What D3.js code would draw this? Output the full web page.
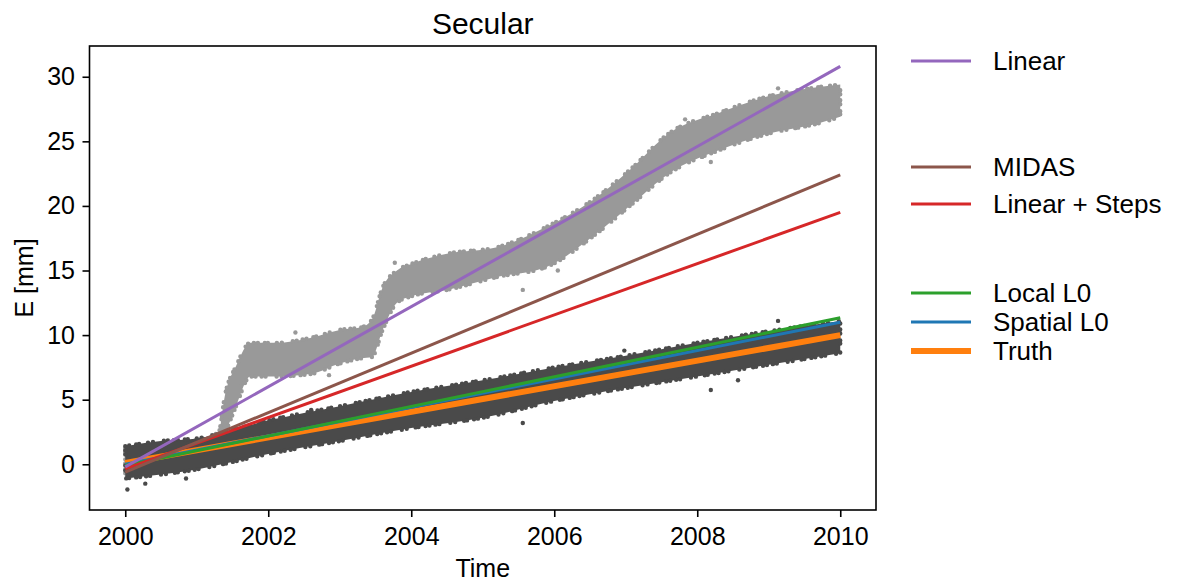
<!DOCTYPE html>
<html>
<head>
<meta charset="utf-8">
<script src="https://cdn.jsdelivr.net/npm/d3@7"></script>
<style>
  body { margin: 0; background: #fff; }
  svg text { font-family: "Liberation Sans", Arial, sans-serif; fill: #000; }
</style>
</head>
<body>
<div id="chart"></div>
<script>
// valeurs
const xTicks = [2000, 2002, 2004, 2006, 2008, 2010];
const yTicks = [0, 5, 10, 15, 20, 25, 30];

// nuage gris clair (avec sauts) : enveloppe basse / haute en mm
const lightT  = [2000, 2001.3, 2001.4, 2001.55, 2001.75, 2002.1, 2002.6, 2003.0, 2003.3, 2003.45, 2003.6, 2003.8, 2004.0, 2004.5, 2005.2, 2005.9, 2006.6, 2007.1, 2007.6, 2008.3, 2009.0, 2009.7, 2010];
const lightLo = [-0.8, 0.9, 2.4, 4.5, 6.8, 6.8, 7.0, 7.8, 8.2, 8.3, 10.4, 12.5, 13.0, 13.5, 14.5, 15.3, 17.9, 20.2, 22.5, 24.3, 25.6, 26.4, 26.9];
const lightHi = [1.2, 2.4, 5.5, 7.6, 9.4, 9.4, 9.8, 10.4, 10.6, 11.2, 13.7, 15.0, 15.5, 16.3, 16.8, 18.4, 20.7, 23.0, 25.6, 27.2, 28.5, 29.2, 29.4];

// nuage gris foncé (sans sauts)
const darkT  = [2000, 2000.5, 2001, 2002, 2003, 2004, 2005, 2006, 2007, 2008, 2009, 2010];
const darkLo = [-1.1, -0.8, -0.4, 0.8, 1.8, 2.8, 3.6, 4.9, 5.9, 6.8, 7.7, 8.6];
const darkHi = [1.4, 1.8, 2.0, 3.4, 4.5, 5.6, 6.5, 7.5, 8.4, 9.4, 10.3, 11.1];

// quelques points isolés
const lightOutT = [2001.62, 2002.38, 2002.85, 2003.77, 2005.56, 2006.05, 2007.83, 2008.07, 2008.19, 2009.13];
const lightOutV = [6.3, 10.2, 6.9, 15.6, 13.5, 15.0, 26.7, 23.8, 23.4, 29.1];
const darkOutT = [2000.03, 2000.28, 2000.85, 2002.6, 2005.56, 2006.98, 2008.19, 2008.57, 2009.13];
const darkOutV = [-1.95, -1.5, -1.1, 4.2, 3.2, 8.8, 5.75, 6.5, 11.1];

// droites : valeur en 2000 et en 2010
const lineNames = ["Truth", "Spatial L0", "Local L0", "Linear + Steps", "MIDAS", "Linear"];
const lineStart = [0.1, 0.0, -0.1, -0.35, -0.6, -0.2];
const lineEnd   = [10.0, 11.0, 11.35, 19.5, 22.4, 30.8];
const lineColors = ["#ff7f0e", "#1f77b4", "#2ca02c", "#d62728", "#8c564b", "#9467bd"];
const lineWidths = [6, 3, 3, 3, 3, 3];

const margin = { top: 46, right: 303, bottom: 73, left: 89.5 },
  width = 1179 - margin.left - margin.right,
  height = 583 - margin.top - margin.bottom;

const svg = d3
  .select("#chart")
  .append("svg")
  .attr("width", 1179)
  .attr("height", 583);

const g = svg.append("g").attr("transform", "translate(" + margin.left + "," + margin.top + ")");

const x = d3.scaleLinear().domain([1999.5, 2010.5]).range([0, width]);
const y = d3.scaleLinear().domain([-3.54, 32.38]).range([height, 0]);

g.append("clipPath").attr("id", "clip")
  .append("rect").attr("width", width).attr("height", height);

const plot = g.append("g").attr("clip-path", "url(#clip)");

function band(ts, lo, hi) {
  return ts.map((t, i) => ({ t: t, lo: lo[i], hi: hi[i] }));
}

const area = d3.area()
  .x((d) => x(d.t))
  .y0((d) => y(d.lo))
  .y1((d) => y(d.hi))
  .curve(d3.curveMonotoneX);

function drawCloud(data, outT, outV, color) {
  // enveloppe du nuage, bord en pointillé irrégulier pour imiter les points
  plot.append("path")
    .datum(data)
    .attr("d", area)
    .style("fill", color)
    .style("stroke", color)
    .style("stroke-width", 4.4)
    .style("stroke-linecap", "round")
    .style("stroke-dasharray", "0 4 0 7 0 3 0 9 0 5 0 11 0 4 0 6");
  plot.selectAll(null)
    .data(outT.map((t, i) => ({ t: t, v: outV[i] })))
    .enter()
    .append("circle")
    .attr("cx", (d) => x(d.t))
    .attr("cy", (d) => y(d.v))
    .attr("r", 2.2)
    .style("fill", color);
}

drawCloud(band(lightT, lightLo, lightHi), lightOutT, lightOutV, "#999999");
drawCloud(band(darkT, darkLo, darkHi), darkOutT, darkOutV, "#4a4a4a");

// droites
lineNames.forEach(function (name, i) {
  plot.append("line")
    .attr("x1", x(2000))
    .attr("y1", y(lineStart[i]))
    .attr("x2", x(2010))
    .attr("y2", y(lineEnd[i]))
    .style("stroke", lineColors[i])
    .style("stroke-width", lineWidths[i]);
});

// axes
const xAxis = g.append("g")
  .attr("transform", "translate(0," + height + ")")
  .call(d3.axisBottom(x).tickValues(xTicks).tickFormat(d3.format("d")).tickSize(7).tickPadding(10));
const yAxis = g.append("g")
  .call(d3.axisLeft(y).tickValues(yTicks).tickSize(7).tickPadding(7.5));

[xAxis, yAxis].forEach(function (a) {
  a.select(".domain").remove();
  a.selectAll(".tick line").style("stroke", "#000").style("stroke-width", 1.6);
  a.selectAll(".tick text").style("font-size", "25px").style("font-family", "Liberation Sans, Arial, sans-serif");
});

g.append("rect")
  .attr("width", width)
  .attr("height", height)
  .style("fill", "none")
  .style("stroke", "#000")
  .style("stroke-width", 1.6);

// titres
svg.append("text")
  .attr("x", margin.left + width / 2)
  .attr("y", 34)
  .attr("text-anchor", "middle")
  .style("font-size", "30px")
  .text("Secular");

svg.append("text")
  .attr("x", margin.left + width / 2)
  .attr("y", 577)
  .attr("text-anchor", "middle")
  .style("font-size", "25px")
  .text("Time");

svg.append("text")
  .attr("transform", "translate(33," + (margin.top + height / 2) + ") rotate(-90)")
  .attr("text-anchor", "middle")
  .style("font-size", "25px")
  .text("E [mm]");

// légende
const legendNames = ["Linear", "MIDAS", "Linear + Steps", "Local L0", "Spatial L0", "Truth"];
const legendY = [61, 167, 204, 293, 322, 351];

const legend = svg.append("g");
legendNames.forEach(function (name, i) {
  const k = lineNames.indexOf(name);
  legend.append("line")
    .attr("x1", 911)
    .attr("x2", 971)
    .attr("y1", legendY[i])
    .attr("y2", legendY[i])
    .style("stroke", lineColors[k])
    .style("stroke-width", lineWidths[k]);
  legend.append("text")
    .attr("x", 993)
    .attr("y", legendY[i])
    .attr("dy", "0.35em")
    .style("font-size", "26px")
    .text(name);
});
</script>
</body>
</html>
